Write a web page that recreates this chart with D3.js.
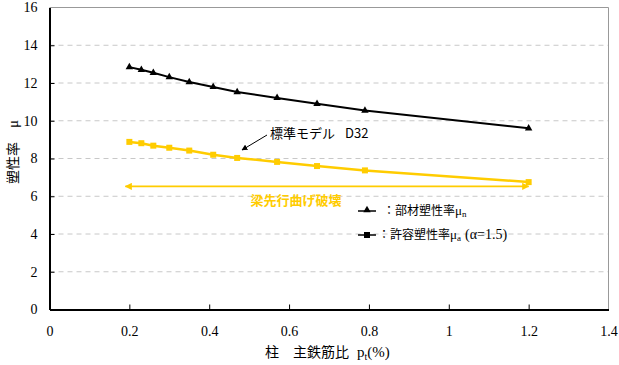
<!DOCTYPE html>
<html><head><meta charset="utf-8">
<script src="https://cdn.jsdelivr.net/npm/d3@7"></script>
<style>body{margin:0;background:#fff}svg{display:block}</style>
</head><body>
<script>
const pt = [0.2, 0.23, 0.26, 0.30, 0.35, 0.41, 0.47, 0.57, 0.67, 0.79, 1.2];
const muN = [12.84, 12.7, 12.54, 12.31, 12.05, 11.79, 11.52, 11.21, 10.9, 10.54, 9.6];
const muA = [8.88, 8.81, 8.68, 8.57, 8.42, 8.2, 8.03, 7.82, 7.6, 7.37, 6.75];
const xTicks = [0, 0.2, 0.4, 0.6, 0.8, 1, 1.2, 1.4];
const yTicks = [0, 2, 4, 6, 8, 10, 12, 14, 16];
const arrowRange = [0.19, 1.2];
const arrowY = 6.52;

const W = 619, H = 365;
const svg = d3.select("body").append("svg").attr("width", W).attr("height", H);
const x = d3.scaleLinear().domain([0, 1.4]).range([49.5, 608.5]);
const y = d3.scaleLinear().domain([0, 16]).range([309.5, 7.5]);
const numFont = "'Liberation Serif', serif";
const jpFont = "'Noto Sans CJK JP', sans-serif";
const gold = "#FFCC00";

// gridlines
svg.append("g").selectAll("line").data(yTicks.filter(d => d > 0 && d < 16)).join("line")
  .attr("x1", x(0)).attr("x2", x(1.4)).attr("y1", d => y(d)).attr("y2", d => y(d))
  .attr("stroke", "#c8c8c8").attr("stroke-dasharray", "5,4");
// frame top/right
svg.append("path").attr("d", `M${x(0)},${y(16)}H${x(1.4)}V${y(0)}`).attr("fill", "none").attr("stroke", "#999");

// axes
const xa = svg.append("g").attr("transform", `translate(0,${y(0)})`)
  .call(d3.axisBottom(x).tickValues(xTicks).tickSizeInner(-5).tickSizeOuter(0).tickFormat(d => String(d)));
const ya = svg.append("g").attr("transform", `translate(${x(0)},0)`)
  .call(d3.axisLeft(y).tickValues(yTicks).tickSizeInner(-5).tickSizeOuter(0).tickFormat(d => String(d)));
[xa, ya].forEach(g => {
  g.select(".domain").attr("stroke", "#000").attr("stroke-width", 2);
  g.selectAll(".tick line").attr("stroke", "#000");
  g.selectAll("text").attr("font-family", numFont).attr("font-size", 14).attr("fill", "#000");
});
xa.selectAll(".tick text").attr("dy", "0").attr("y", 26);
ya.selectAll(".tick text").attr("x", -12);
xa.selectAll(".tick").filter(d => d === 0 || d === 1.4).select("line").remove();
ya.selectAll(".tick").filter(d => d === 0 || d === 16).select("line").remove();

// series
const line = d3.line().x(d => x(d[0])).y(d => y(d[1]));
const dN = pt.map((p, i) => [p, muN[i]]);
const dA = pt.map((p, i) => [p, muA[i]]);
svg.append("path").datum(dA).attr("d", line).attr("fill", "none").attr("stroke", gold).attr("stroke-width", 2.5);
svg.append("g").selectAll("rect").data(dA).join("rect")
  .attr("x", d => x(d[0]) - 3).attr("y", d => y(d[1]) - 3).attr("width", 6).attr("height", 6).attr("fill", gold);
svg.append("path").datum(dN).attr("d", line).attr("fill", "none").attr("stroke", "#000").attr("stroke-width", 2);
const tri = d3.symbol().type(d3.symbolTriangle).size(24);
svg.append("g").selectAll("path").data(dN).join("path")
  .attr("d", tri).attr("transform", d => `translate(${x(d[0])},${y(d[1])})`).attr("fill", "#000");

// double arrow
const defs = svg.append("defs");
defs.append("marker").attr("id", "ga").attr("viewBox", "0 0 10 10").attr("refX", 9).attr("refY", 5)
  .attr("markerWidth", 4).attr("markerHeight", 4).attr("orient", "auto-start-reverse")
  .append("path").attr("d", "M0,0L10,5L0,10Z").attr("fill", gold);
svg.append("line").attr("x1", x(arrowRange[0])).attr("x2", x(arrowRange[1]))
  .attr("y1", y(arrowY)).attr("y2", y(arrowY)).attr("stroke", gold).attr("stroke-width", 1.8)
  .attr("marker-start", "url(#ga)").attr("marker-end", "url(#ga)");
svg.append("text").attr("x", 296).attr("y", 205).attr("text-anchor", "middle")
  .attr("font-family", jpFont).attr("font-weight", "bold").attr("font-size", 13).attr("fill", gold).text("梁先行曲げ破壊");

// annotation
defs.append("marker").attr("id", "ba").attr("viewBox", "0 0 10 10").attr("refX", 9).attr("refY", 5)
  .attr("markerWidth", 6).attr("markerHeight", 6).attr("orient", "auto")
  .append("path").attr("d", "M0,0L10,5L0,10Z").attr("fill", "#000");
svg.append("line").attr("x1", 267).attr("y1", 135).attr("x2", 242).attr("y2", 150)
  .attr("stroke", "#000").attr("stroke-width", 1).attr("marker-end", "url(#ba)");
const an = svg.append("text").attr("x", 270).attr("y", 138).attr("font-family", jpFont).attr("font-size", 13)
  .attr("fill", "#000");
an.append("tspan").text("標準モデル");
an.append("tspan").attr("dx", 10).text("D32");

// legend
const lg = svg.append("g").attr("font-family", jpFont).attr("font-size", 12).attr("fill", "#000");
lg.append("line").attr("x1", 358).attr("x2", 376).attr("y1", 211).attr("y2", 211).attr("stroke", "#000").attr("stroke-width", 1.5);
lg.append("path").attr("d", tri).attr("transform", "translate(367,210)").attr("fill", "#000");
const t1 = lg.append("text").attr("x", 383).attr("y", 215);
t1.append("tspan").text("：部材塑性率");
t1.append("tspan").text("μ").attr("font-family", numFont).attr("font-size", 13);
t1.append("tspan").text("n").attr("font-family", numFont).attr("font-size", 9).attr("dy", 2);
lg.append("line").attr("x1", 358).attr("x2", 376).attr("y1", 235).attr("y2", 235).attr("stroke", "#000").attr("stroke-width", 1.5);
lg.append("rect").attr("x", 364).attr("y", 232).attr("width", 6).attr("height", 6).attr("fill", "#000");
const t2 = lg.append("text").attr("x", 378).attr("y", 239);
t2.append("tspan").text("：許容塑性率");
t2.append("tspan").text("μ").attr("font-family", numFont).attr("font-size", 13);
t2.append("tspan").text("a").attr("font-family", numFont).attr("font-size", 9).attr("dy", 2);
t2.append("tspan").text("(α=1.5)").attr("dx", 4).attr("dy", -2).attr("font-family", numFont).attr("font-size", 14);

// axis titles
const yl = svg.append("text").attr("transform", "translate(18,152) rotate(-90)").attr("text-anchor", "middle")
  .attr("font-family", jpFont).attr("font-size", 14).attr("fill", "#000");
yl.append("tspan").text("塑性率");
yl.append("tspan").attr("dx", 14).text("μ").attr("font-family", numFont).attr("font-size", 15);
const xl = svg.append("text").attr("x", 265).attr("y", 357).attr("font-family", jpFont).attr("font-size", 14).attr("fill", "#000");
xl.append("tspan").text("柱　主鉄筋比");
xl.append("tspan").attr("dx", 8).text("p").attr("font-family", numFont).attr("font-size", 15);
xl.append("tspan").text("t").attr("font-family", numFont).attr("font-size", 10).attr("dy", 3);
xl.append("tspan").text("(%)").attr("font-family", numFont).attr("font-size", 15).attr("dy", -3);
</script>
</body></html>
